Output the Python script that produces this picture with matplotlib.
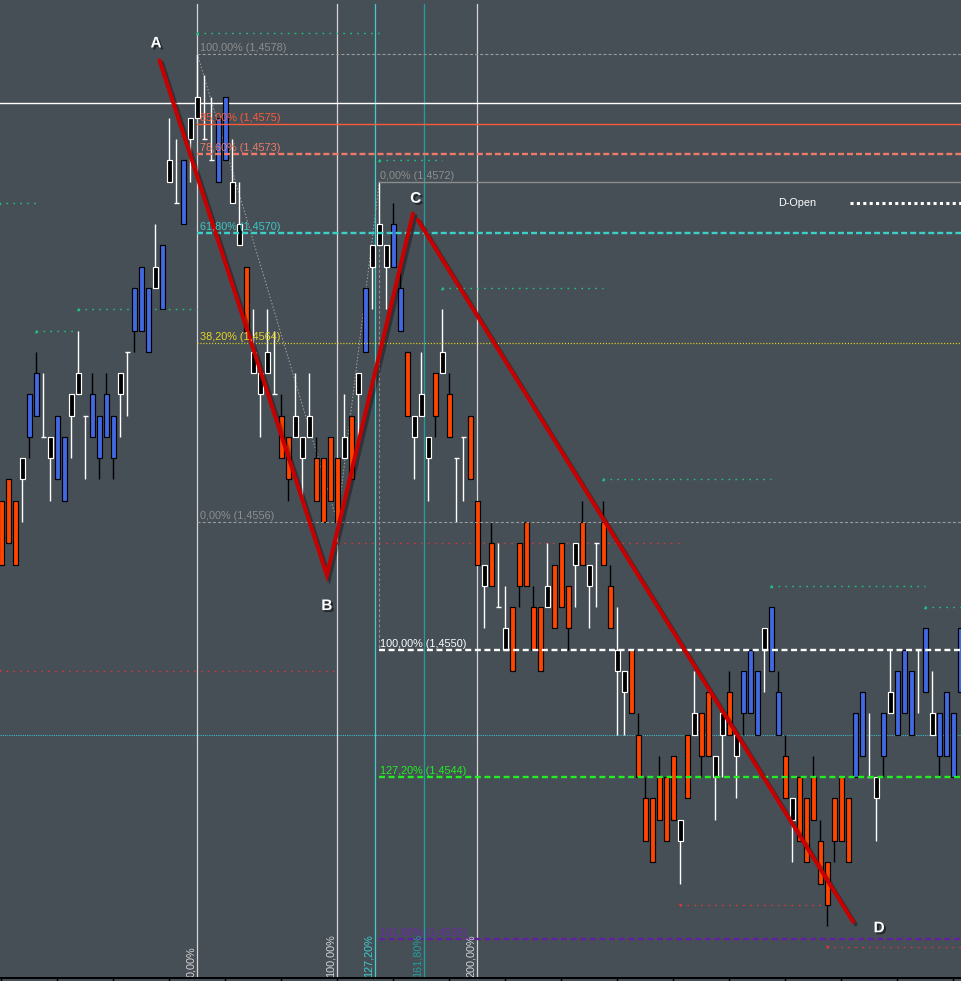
import matplotlib
matplotlib.use("Agg")
import matplotlib.pyplot as plt
import matplotlib.patheffects as pe
from matplotlib.transforms import blended_transform_factory
import numpy as np

plt.rcParams['lines.scale_dashes'] = False
FONT = ['Liberation Sans', 'DejaVu Sans']

# ---------------- data: prices in pips relative to 1.4556 ----------------
BASE = 1.4556
PIP = 0.0001

# o = orange bar, b = blue bar, w = black body / white outline, d = doji
kind = ['o','o','o','w','b','b','d','w','b','b',
        'w','w','d','b','b','b','b','w','d','b',
        'b','b','w','b','w','d','b','w','w','d',
        'd','b','b','w','w','o','w','w','w','d',
        'o','o','w','w','w','o','o','o','o','w',
        'o','w','b','w','w','w','b','b','o','w',
        'w','w','o','w','o','d','d','o','o','w',
        'o','d','w','o','o','o','o','o','w','o',
        'o','o','w','o','w','d','o','o','w','w',
        'o','o','o','o','o','o','o','w','o','w',
        'o','o','w','w','o','w','b','b','b','w',
        'b','b','o','w','o','o','o','o','o','o',
        'o','o','b','b','d','w','b','w','b','b',
        'b','d','b','w','b','b','b','b']

body_top = [1,2,1,3,6,7,4,4,5,4,
            6,7,5,6,5,6,5,7,8,11,
            12,11,12,13,17,15,17,19,20,18,
            17,19,20,16,14,12,8,7,8,6,
            5,4,5,4,5,3,3,4,3,4,
            5,7,11,13,14,13,14,11,8,5,
            6,4,7,8,6,3,4,5,1,-2,
            -1,-4,-5,-4,-1,0,-4,-4,-3,-2,
            -1,-3,-1,0,-2,-1,0,-3,-6,-7,
            -6,-10,-13,-13,-12,-12,-11,-14,-10,-9,
            -9,-8,-11,-9,-8,-10,-7,-6,-7,-5,
            -4,-8,-11,-13,-12,-13,-12,-15,-16,-13,
            -12,-13,-9,-8,-12,-12,-9,-8,-7,-6,
            -7,-6,-5,-9,-9,-8,-9,-5]

body_bot = [-2,-1,-2,2,4,5,4,3,2,1,
            5,6,5,4,3,4,3,6,8,9,
            9,8,11,10,16,15,14,18,19,18,
            17,16,17,15,13,9,7,6,7,6,
            3,2,4,3,4,1,0,1,0,3,
            2,6,8,12,13,12,12,9,5,4,
            5,3,5,7,4,3,4,2,-2,-3,
            -3,-4,-6,-7,-3,-3,-6,-7,-4,-5,
            -4,-5,-2,-2,-3,-1,-2,-5,-7,-8,
            -9,-12,-15,-16,-14,-15,-14,-15,-13,-10,
            -11,-11,-12,-10,-10,-11,-9,-9,-10,-6,
            -7,-10,-13,-14,-15,-16,-14,-17,-18,-15,
            -15,-16,-12,-11,-12,-13,-11,-9,-10,-9,
            -10,-6,-8,-10,-11,-11,-12,-8]

high = [1,2,1,3,6,8,7,4,5,4,
        6,9,5,7,5,7,5,7,8,11,
        12,11,14,13,19,18,17,19,22,21,
        20,19,20,18,16,12,10,7,10,9,
        6,4,7,4,7,4,3,4,3,6,
        5,7,11,13,16,13,15,12,8,5,
        8,4,7,10,7,3,4,5,1,-2,
        0,-1,-3,-4,-1,0,-3,-4,-1,-2,
        -1,-3,-1,1,-2,-1,1,-2,-4,-7,
        -6,-9,-12,-13,-11,-12,-11,-14,-10,-7,
        -9,-8,-11,-9,-7,-10,-7,-6,-7,-5,
        -4,-7,-10,-13,-12,-13,-11,-14,-16,-13,
        -12,-13,-9,-8,-9,-12,-9,-6,-7,-6,
        -7,-6,-5,-7,-9,-8,-9,-5]

low = [-2,-1,-2,0,3,5,4,1,2,1,
       3,6,2,4,2,4,2,4,5,8,
       9,8,11,10,16,15,14,16,19,18,
       17,16,17,15,13,9,7,4,7,6,
       3,1,4,1,4,1,0,1,0,3,
       2,4,8,10,13,10,12,9,5,2,
       5,1,4,7,4,0,1,2,-2,-5,
       -3,-4,-6,-7,-4,-3,-6,-7,-4,-5,
       -4,-6,-4,-2,-5,-4,-2,-5,-10,-10,
       -9,-12,-15,-16,-14,-15,-14,-17,-13,-10,
       -12,-11,-14,-12,-10,-13,-10,-9,-10,-8,
       -7,-10,-13,-16,-15,-16,-14,-17,-19,-16,
       -15,-16,-12,-11,-12,-15,-12,-9,-10,-9,
       -10,-9,-8,-10,-12,-11,-12,-8]

# swing pivot markers: (start bar, end bar, level in pips)
pivot_high = [(-0.3, 5, 15), (5, 11, 9), (11, 28, 10), (28, 54, 23),
              (54, 63, 17), (63, 86, 11), (86, 110, 2), (110, 132, -3), (132, 137.3, -4)]
pivot_low = [(-0.3, 48, -7), (48, 97, -1), (97, 118, -18), (118, 137.3, -20)]

# ABCD pattern drawing (bar position, pips)
abc_x = [22.6, 46.5, 58.8]
abc_k = [21.7, -2.5, 14.5]
cd_x = [59.5, 121.7]
cd_k = [14.2, -18.8]
point_names = ['A', 'B', 'C', 'D']
name_x = [22.1, 46.5, 59.2, 125.4]
name_k = [22.5, -3.95, 15.2, -19.1]

# fibonacci tools
A_price, B_price, C_price = 1.4578, 1.4556, 1.4572
A_idx, B_idx, C_idx = 28, 48, 54
retr_ratios = [1.0, 0.85, 0.786, 0.618, 0.382, 0.0]
ext_ratios = [0.0, 1.0, 1.272, 1.618]
time_ratios = [0.0, 1.0, 1.272, 1.618, 2.0]

white_line_price = 1.45757
cyan_line_price = 1.4546
dopen_price = 1.4571

# ---------------- figure ----------------
BG = '#464f56'
fig = plt.figure(figsize=(9.61, 9.81), dpi=100, facecolor=BG)
ax = fig.add_axes([0, 0, 1, 1])
ax.set_facecolor(BG)
ax.axis('off')

def P(k):
    return BASE + np.asarray(k, dtype=float) * PIP

x_lo, x_hi = -0.19, 137.1
ax.set_xlim(x_lo, x_hi)
ax.set_ylim(P(-21.58), P(24.54))
trx = blended_transform_factory(ax.transData, ax.transAxes)

def fmt(v, nd):
    return f"{v:.{nd}f}".replace('.', ',')

# ---- time fib vertical lines ----
time_cols = ['#d6d6d6', '#d6d6d6', '#3fcfcf', '#1f9f9f', '#d6d6d6']
for r, col in zip(time_ratios, time_cols):
    xv = A_idx + r * (B_idx - A_idx)
    ax.plot([xv, xv], [0.003, 0.996], transform=trx, color=col, lw=0.9, zorder=1)
    ax.annotate(fmt(r * 100, 2) + '%', (xv, 0.0045), xycoords=trx,
                xytext=(-1.2, 0), textcoords='offset points', rotation=90,
                ha='right', va='bottom', color=col, fontsize=7.8, family=FONT, zorder=6)

# ---- horizontal reference lines ----
ax.axhline(white_line_price, color='white', lw=1.0, zorder=1)
ax.axhline(cyan_line_price, color='#3fbccc', lw=0.8, dashes=(0.8, 0.8), zorder=1)

# ---- retracement A-B ----
retr_style = {1.0: ('#9a9a9a', 0.8, (2.2, 1.5), '#8e8e8e'),
              0.85: ('#ff5a3a', 1.0, None, '#ff5a3a'),
              0.786: ('#f07a6a', 1.7, (4.3, 2.2), '#f07a6a'),
              0.618: ('#3cd0c8', 1.7, (4.3, 2.2), '#3cc8c4'),
              0.382: ('#e8d428', 0.9, (0.8, 1.3), '#e8d428'),
              0.0: ('#9a9a9a', 0.8, (2.2, 1.5), '#8e8e8e')}
for r in retr_ratios:
    col, lw, ds, tcol = retr_style[r]
    pr = B_price + r * (A_price - B_price)
    kw = dict(color=col, lw=lw, zorder=4.5)
    if ds:
        kw['dashes'] = ds
    ax.plot([A_idx, x_hi], [pr, pr], **kw)
    ax.annotate(f"{fmt(r * 100, 2)}% ({fmt(pr, 4)})", (A_idx, pr), xytext=(1.8, 0.6),
                textcoords='offset points', ha='left', va='bottom', color=tcol,
                fontsize=7.8, family=FONT, zorder=6)

# ---- extension from C ----
ext_style = {0.0: ('#8c8c8c', 1.0, None, '#8e8e8e'),
             1.0: ('#ffffff', 1.7, (4.3, 2.6), '#ffffff'),
             1.272: ('#22ee22', 1.7, (4.3, 2.6), '#22ee22'),
             1.618: ('#641ea0', 1.7, (4.3, 2.6), '#6a2aa6')}
for r in ext_ratios:
    col, lw, ds, tcol = ext_style[r]
    pr = C_price - r * (A_price - B_price)
    kw = dict(color=col, lw=lw, zorder=4.5)
    if ds:
        kw['dashes'] = ds
    ax.plot([C_idx, x_hi], [pr, pr], **kw)
    ax.annotate(f"{fmt(r * 100, 2)}% ({fmt(pr, 4)})", (C_idx, pr), xytext=(0.8, 0.6),
                textcoords='offset points', ha='left', va='bottom', color=tcol,
                fontsize=7.8, family=FONT, zorder=6)
ax.plot([C_idx, C_idx], [C_price, C_price - (A_price - B_price)], color='#8c8c8c',
        lw=0.8, dashes=(2.2, 1.5), zorder=1.5)

# thin helper lines A->B, B->C
ax.plot([A_idx, B_idx, C_idx], [A_price, B_price, C_price], color='#a8a8a8', lw=0.7,
        dashes=(1.0, 1.4), zorder=2.5)

# ---- pivot dotted lines ----
for s, e, k in pivot_high:
    ax.plot([s, e], [P(k), P(k)], color='#22c283', lw=1.0, dashes=(1.2, 3.8), zorder=1.5)
    ax.plot([s], [P(k)], marker='^', ms=2.5, color='#22c283', mew=0, zorder=1.5)
for s, e, k in pivot_low:
    ax.plot([s, e], [P(k), P(k)], color='#d23a3a', lw=1.0, dashes=(1.2, 3.8), zorder=1.5)
    ax.plot([s], [P(k)], marker='v', ms=2.5, color='#d23a3a', mew=0, zorder=1.5)

# ---- candles ----
n = len(kind)
xs = np.arange(n)
kinds = np.array(kind)
top = P(body_top)
bot = P(body_bot)
hi = P(high)
lo = P(low)
wick_col = ['black' if k in ('o', 'b') else 'white' for k in kind]
ax.vlines(xs, lo, hi, colors=wick_col, lw=1.0, zorder=2.8)
face = {'o': '#ff4500', 'b': '#4169e1', 'w': '#000000'}
edge = {'o': '#000000', 'b': '#000000', 'w': '#ffffff'}
for kd in ('o', 'b', 'w'):
    m = kinds == kd
    ax.bar(xs[m], top[m] - bot[m], bottom=bot[m], width=0.7, color=face[kd],
           edgecolor=edge[kd], linewidth=0.85, zorder=3)
m = kinds == 'd'
ax.hlines(top[m], xs[m] - 0.38, xs[m] + 0.38, colors='white', lw=1.0, zorder=3)

# ---- ABCD pattern ----
shadow = [pe.SimpleLineShadow(offset=(1.8, -1.8), shadow_color='black', alpha=0.35), pe.Normal()]
ax.plot(abc_x, P(abc_k), color='#c80000', lw=2.9, solid_capstyle='round',
        solid_joinstyle='miter', zorder=5, path_effects=shadow)
ax.plot(cd_x, P(cd_k), color='#c80000', lw=2.9, solid_capstyle='round', zorder=5,
        path_effects=shadow)
for nm, nx, nk in zip(point_names, name_x, name_k):
    ax.text(nx, P(nk), nm, color='white', fontsize=11, fontweight='bold', family=FONT,
            ha='center', va='center', zorder=6,
            path_effects=[pe.withSimplePatchShadow(offset=(1.5, -1.5), shadow_rgbFace='black', alpha=0.5)])

# ---- D-Open ----
ax.plot([121.3, x_hi], [dopen_price, dopen_price], color='white', lw=2.2,
        dashes=(2.2, 2.4), zorder=4.5)
ax.text(113.7, dopen_price, 'D-Open', color='white', fontsize=7.8, family=FONT,
        ha='center', va='center', zorder=6)

# ---- time axis baseline with ticks ----
ax.plot([0, 1], [0.003, 0.003], transform=ax.transAxes, color='black', lw=1.4, zorder=7)
for t in range(0, n, 8):
    ax.plot([t, t], [0.0, 0.003], transform=trx, color='black', lw=1.0, zorder=7)

fig.savefig('out.png', dpi=100, facecolor=BG)
